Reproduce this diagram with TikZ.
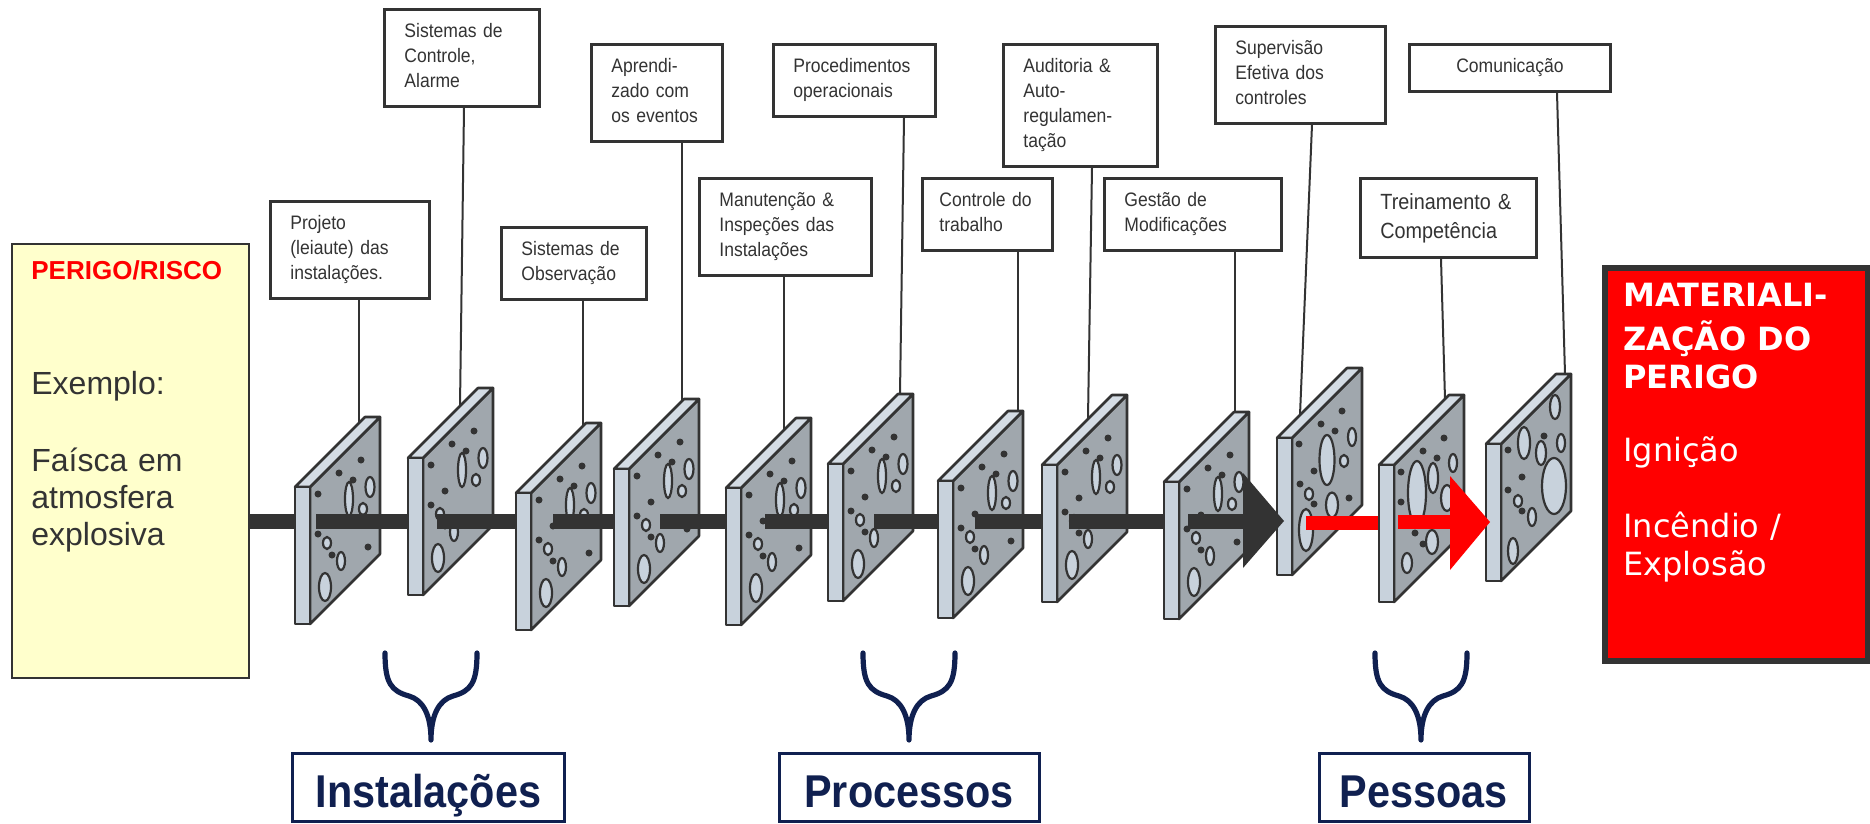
\documentclass[tikz,border=0pt]{standalone}
\usepackage{fontspec}
\setmainfont{Liberation Sans}
\newfontfamily\narrowsf[FakeStretch=0.9]{Liberation Sans}
\newfontfamily\verdsf{DejaVu Sans}
\usetikzlibrary{calc}
\definecolor{ink}{RGB}{51,51,51}
\definecolor{slabgray}{RGB}{160,167,173}
\definecolor{slablight}{RGB}{200,210,220}
\definecolor{slabtop}{RGB}{212,220,228}
\definecolor{paleyel}{RGB}{255,255,204}
\definecolor{navy}{RGB}{16,32,80}
\definecolor{perigored}{RGB}{255,0,0}

\tikzset{
  lbl/.style={draw=ink, line width=1.4pt, fill=white, anchor=north west, inner xsep=10pt, inner ysep=5.5pt, align=left, text=ink, font=\narrowsf\fontsize{9.75pt}{12.5pt}\selectfont, execute at begin node=\strut, execute at end node=\strut},
  conn/.style={draw=ink, line width=1pt},
  face/.style={fill=slabgray, draw=ink, line width=1.3pt, line join=round},
  rim/.style={fill=slablight, draw=ink, line width=1.3pt, line join=round},
  hole/.style={fill=slablight, draw=ink, line width=1.1pt},
  grao/.style={fill=ink},
  bar/.style={draw=ink, line width=7.5pt},
  redbar/.style={draw=perigored, line width=6.75pt},
  grupo/.style={draw=navy, line width=1.5pt, text=navy, font=\narrowsf\bfseries\fontsize{23pt}{27pt}\selectfont, inner sep=0pt, minimum height=34pt, text height=20pt, text depth=0pt},
  chaveline/.style={draw=navy, line width=2.6pt, line cap=round, line join=round},
  txt/.style={inner sep=0pt, align=left, execute at begin node=\strut}
}

\newcommand{\holesstd}{%
  \foreach \hx/\hy in {66/-27,44/-14,58/-7,23/7,37/33,23/47,37/68,73/60}
    \fill[grao] (\hx,\hy) circle[radius=1.75pt];
  \foreach \hx/\hy/\rx/\ry in {54/12/2/8.5,75/0/2.25/5,68/22/2/3,32/56/2/3,46/74/2/4.5,30/100/3/7}
    \draw[hole] (\hx,\hy) ellipse[x radius=\rx pt, y radius=\ry pt];
}
\newcommand{\holesj}{%
  \foreach \hx/\hy in {65/-27,44/-14,58/-7,22/6,37/33,23/46,37/66,72/60}
    \fill[grao] (\hx,\hy) circle[radius=1.75pt];
  \foreach \hx/\hy/\rx/\ry in {50/22/3.75/12.5,75/-1/2/4.5,67/23/2/3,32/56/2/3,55/67/3/6.25,29/92/3.5/10.5}
    \draw[hole] (\hx,\hy) ellipse[x radius=\rx pt, y radius=\ry pt];
}
\newcommand{\holesk}{%
  \foreach \hx/\hy in {65/-27,44/-14,58/-7,22/7,22/37,36/68,44/79}
    \fill[grao] (\hx,\hy) circle[radius=1.75pt];
  \foreach \hx/\hy/\rx/\ry in {38/28/4.5/16,54/13/2.5/7.5,74/-2/2/4.5,68/33/3/6.5,53/77/3/6,28/98/2.5/5}
    \draw[hole] (\hx,\hy) ellipse[x radius=\rx pt, y radius=\ry pt];
}
\newcommand{\holesl}{%
  \foreach \hx/\hy in {58/-8,22/6,36/33,22/46,36/67}
    \fill[grao] (\hx,\hy) circle[radius=1.75pt];
  \foreach \hx/\hy/\rx/\ry in {69/-37/2.5/6,38/-1/3/8,55/9/2.5/6,75/-1/2/4.5,68/42/6/14,32/57/2/3,46/73/2/4.5,27/107/2.5/6.5}
    \draw[hole] (\hx,\hy) ellipse[x radius=\rx pt, y radius=\ry pt];
}
\newcommand{\slab}[3]{%
  \begin{scope}[shift={(#1,#2)}]
    \draw[face] (15,0) -- (85,-70) -- (85,67) -- (15,137) -- cycle;
    \draw[rim, fill=slabtop] (0,0) -- (70,-70) -- (85,-70) -- (15,0) -- cycle;
    \draw[rim] (0,0) rectangle (15,137);
    #3
  \end{scope}}
\newcommand{\chave}[1]{%
  \draw[chaveline, shift={(#1,653)}] (-46,0) .. controls (-46,30) and (-40,38) .. (-22,43) .. controls (-8,47) and (0,62) .. (0,87) .. controls (0,62) and (8,47) .. (22,43) .. controls (40,38) and (46,30) .. (46,0);}

\begin{document}
\begin{tikzpicture}[x=0.5pt, y=-0.5pt]
\useasboundingbox (0,0) rectangle (1870,824);

\node[lbl, text width=59.5pt] (proj) at (269,200) {Projeto\\(leiaute) das\\instalações.};
\node[lbl, text width=57.5pt] (ctrl) at (383,8) {Sistemas de\\Controle,\\Alarme};
\node[lbl, text width=52.5pt] (obs) at (500,226) {Sistemas de\\Observação};
\node[lbl, text width=45.5pt] (apr) at (590,43) {Aprendi-\\zado com\\os eventos};
\node[lbl, text width=66pt] (man) at (698,177) {Manutenção \&\\Inspeções das\\Instalações};
\node[lbl, text width=61pt] (proc) at (772,43) {Procedimentos\\operacionais};
\node[lbl, text width=48pt, inner xsep=8.5pt] (trab) at (921,177) {Controle do\\trabalho};
\node[lbl, text width=57pt] (aud) at (1002,43) {Auditoria \&\\Auto-\\regulamen-\\tação};
\node[lbl, text width=68.5pt] (gest) at (1103,177) {Gestão de\\Modificações};
\node[lbl, text width=65pt] (sup) at (1214,25) {Supervisão\\Efetiva dos\\controles};
\node[lbl, text width=68pt, inner ysep=5.25pt, font=\narrowsf\fontsize{11pt}{14.5pt}\selectfont] (trein) at (1359,177) {Treinamento \&\\Competência};
\node[lbl, text width=80.5pt, align=center] (com) at (1408,43) {Comunicação};

\foreach \n/\px/\py in {t1/359/423, t2/460/406, t3/583/426, t4/682/401, t5/784/430, t6/900/394, t7/1018/411, t8/1088/418, t9/1235/412, t10/1300/415, t11/1445/399, t12/1565/374}
  \coordinate (\n) at (\px,\py);
\foreach \a/\dx/\b in {proj/90/t1, ctrl/81/t2, obs/83/t3, apr/92/t4, man/86/t5, proc/132/t6, trab/97/t7, aud/90/t8, gest/132/t9, sup/98/t10, trein/82/t11, com/149/t12}
  \draw[conn] ($(\a.south west)+(\dx,0)$) -- (\b);

\node[draw=ink, line width=1pt, fill=paleyel, anchor=north west, inner sep=0pt, minimum width=118.5pt, minimum height=217pt] (perigo) at (11,243) {};
\node[txt, anchor=base west, text=perigored, font=\bfseries\fontsize{13pt}{16pt}\selectfont] (risco) at (31,279) {PERIGO/RISCO};
\node[txt, anchor=base west, text=ink, font=\fontsize{16pt}{18.5pt}\selectfont] (exemplo) at (31,394) {Exemplo:};
\node[txt, anchor=north west, text width=105pt, text=ink, font=\fontsize{16pt}{18.5pt}\selectfont] (faisca) at (31,445) {Faísca em\\atmosfera\\explosiva};

\node[draw=ink, line width=3pt, fill=perigored, anchor=north west, inner sep=0pt, minimum width=131.5pt, minimum height=196.5pt] (mat) at (1602,265) {};
\node[txt, anchor=north west, text width=115pt, text=white, font=\verdsf\bfseries\fontsize{16pt}{19pt}\selectfont] (matit) at (1623,280) {MATERIALI-\\ZAÇÃO DO\\PERIGO};
\node[txt, anchor=base west, text=white, font=\verdsf\fontsize{16pt}{19pt}\selectfont] (ign) at (1623,461) {Ignição};
\node[txt, anchor=north west, text width=115pt, text=white, font=\verdsf\fontsize{16pt}{19pt}\selectfont] (inc) at (1623,510) {Incêndio /\\Explosão};

\draw[bar] (248,521) -- (300,521);
\slab{295}{487}{\holesstd}
\draw[bar] (316,521) -- (413,521);
\slab{408}{458}{\holesstd}
\draw[bar] (437,521) -- (521,521);
\slab{516}{493}{\holesstd}
\draw[bar] (553,521) -- (619,521);
\slab{614}{469}{\holesstd}
\draw[bar] (660,521) -- (731,521);
\slab{726}{488}{\holesstd}
\draw[bar] (765,521) -- (833,521);
\slab{828}{464}{\holesstd}
\draw[bar] (874,521) -- (943,521);
\slab{938}{481}{\holesstd}
\draw[bar] (975,521) -- (1047,521);
\slab{1042}{465}{\holesstd}
\draw[bar] (1069,521) -- (1169,521);
\slab{1164}{482}{\holesstd}
\slab{1277}{438}{\holesj}
\draw[bar] (1188,521) -- (1245,521);
\fill[ink] (1243,473) -- (1284,521) -- (1243,568) -- cycle;
\draw[redbar] (1306,523) -- (1384,523);
\slab{1379}{465}{\holesk}
\slab{1486}{444}{\holesl}
\draw[redbar] (1398,522) -- (1452,522);
\fill[perigored] (1450,476) -- (1490,522) -- (1450,570) -- cycle;

\chave{431}
\chave{909}
\chave{1421}
\node[grupo, minimum width=136pt] (inst) at (428.5,787) {Instalações};
\node[grupo, minimum width=130pt] (procs) at (909,787) {Processos};
\node[grupo, minimum width=105pt] (pess) at (1424,787) {Pessoas};
\end{tikzpicture}
\end{document}
